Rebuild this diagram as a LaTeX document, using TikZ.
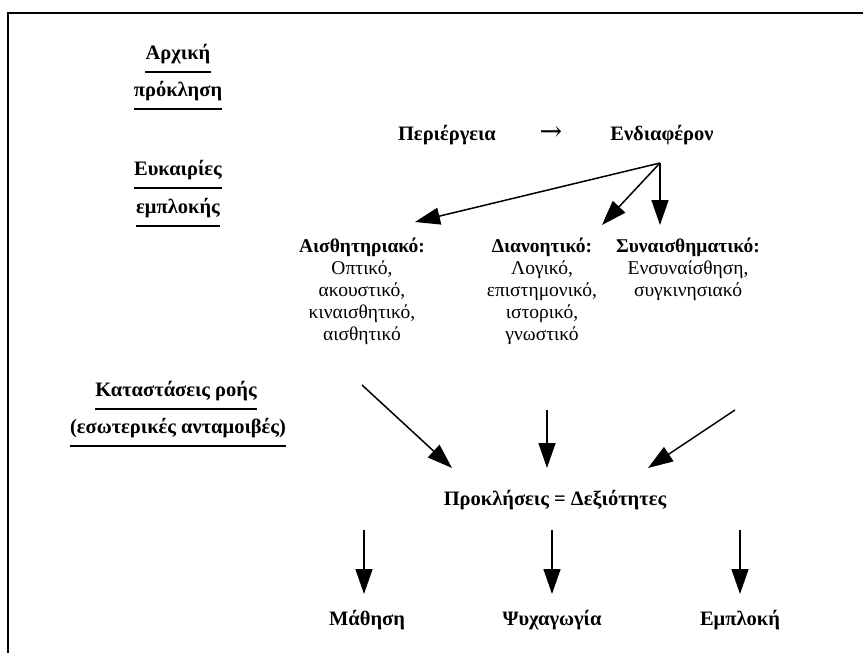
\documentclass[tikz,border=0pt]{standalone}
\usepackage{fontspec}
\setmainfont{Liberation Serif}
\newfontfamily\arrfont{DejaVu Serif}
\usetikzlibrary{arrows.meta}
\begin{document}
\begin{tikzpicture}[x=1pt,y=-1pt,
  lbl/.style={font=\fontsize{20.5}{22}\selectfont\bfseries, inner sep=0pt},
  ullbl/.style={lbl, text height=14pt, text depth=5pt, inner ysep=0pt},
  col/.style={font=\fontsize{19.5}{22}\selectfont, align=center, inner sep=0pt, anchor=north},
  bigarr/.style={line width=1.5pt, -{Triangle[length=25pt,width=17pt]}},
  ul/.style={line width=2.2pt}
]
\useasboundingbox (0,0) rectangle (863,653);
% frame
\draw[line width=2.2pt] (8,653) -- (8,13) -- (863,13);

% left labels
\node[ullbl] (l1) at (178,55) {Αρχική};
\node[ullbl] (l2) at (178,92) {πρόκληση};
\node[ullbl] (l3) at (178,171) {Ευκαιρίες};
\node[ullbl] (l4) at (178,209) {εμπλοκής};
\node[ullbl] (l5) at (176,392) {Καταστάσεις ροής};
\node[ullbl] (l6) at (178,429) {(εσωτερικές ανταμοιβές)};
\foreach \n in {l1,l2,l3,l4,l5,l6}
  \draw[ul] ([yshift=-7pt]\n.south west) -- ([yshift=-7pt]\n.south east);

% top row
\node[lbl] (per) at (447,135) {Περιέργεια};
\node[inner sep=0pt, font=\arrfont\fontsize{27}{27}\selectfont] (arr) at (551,133) {→};
\node[lbl] (end) at (662,135) {Ενδιαφέρον};
\coordinate (o) at (660,163);
\coordinate (t1) at (415,222);
\coordinate (t2) at (602,225);
\coordinate (t3) at (660,225);
\draw[bigarr] (o) -- (t1);
\draw[bigarr] (o) -- (t2);
\draw[bigarr] (o) -- (t3);

% columns
\node[col] (c1) at (362,238) {\textbf{Αισθητηριακό:}\\Οπτικό,\\ακουστικό,\\κιναισθητικό,\\αισθητικό};
\node[col] (c2) at (542,238) {\textbf{Διανοητικό:}\\Λογικό,\\επιστημονικό,\\ιστορικό,\\γνωστικό};
\node[col] (c3) at (688,238) {\textbf{Συναισθηματικό:}\\Ενσυναίσθηση,\\συγκινησιακό};

% middle arrows
\node[lbl] (pd) at (555,500) {Προκλήσεις = Δεξιότητες};
\coordinate (a1s) at (362,385);
\coordinate (a1e) at (452,468);
\coordinate (a2s) at (547,410);
\coordinate (a2e) at (547,468);
\coordinate (a3s) at (735,410);
\coordinate (a3e) at (648,468);
\draw[bigarr] (a1s) -- (a1e);
\draw[bigarr] (a2s) -- (a2e);
\draw[bigarr] (a3s) -- (a3e);

% bottom
\node[lbl] (m) at (367,620) {Μάθηση};
\node[lbl] (p) at (552,620) {Ψυχαγωγία};
\node[lbl] (e) at (740,620) {Εμπλοκή};
\coordinate (b1) at (364,530);
\coordinate (b2) at (552,530);
\coordinate (b3) at (740,530);
\draw[bigarr] (b1) -- ([yshift=16pt]m.north -| b1);
\draw[bigarr] (b2) -- ([yshift=16pt]p.north -| b2);
\draw[bigarr] (b3) -- ([yshift=16pt]e.north -| b3);
\end{tikzpicture}
\end{document}
